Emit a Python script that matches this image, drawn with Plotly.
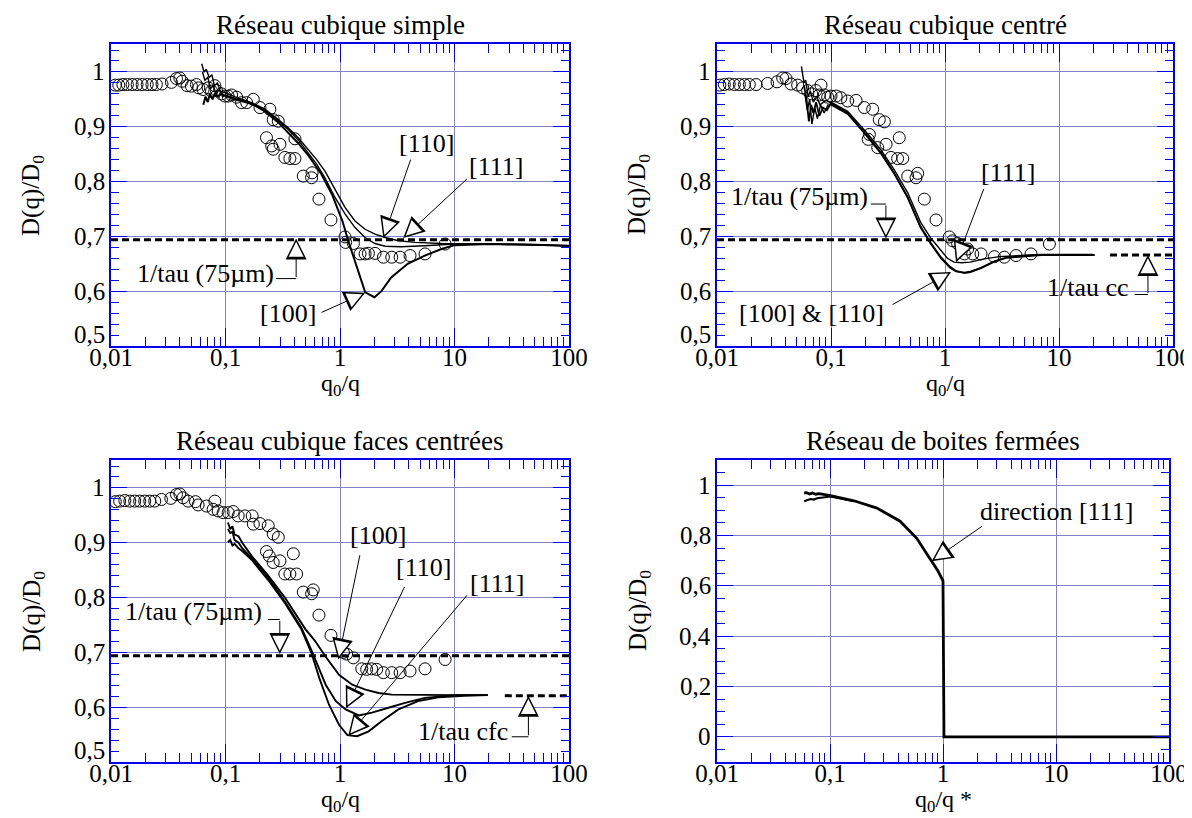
import math
import plotly.graph_objects as go

# ---------------- data ----------------
# Panel 1 : Réseau cubique simple
sc_exp_x = [0.0109,0.0117,0.0127,0.0139,0.0153,0.0169,0.0187,0.0207,0.0228,0.0249,0.0279,0.0337,0.0373,0.0399,0.0418,0.0462,0.0504,0.0558,0.0584,0.0638,0.0705,0.0755,0.0807,0.0834,0.0923,0.0987,0.1055,0.113,0.125,0.138,0.153,0.175,0.200,0.244,0.261,0.289,0.228,0.253,0.299,0.261,0.330,0.365,0.404,0.404,0.478,0.565,0.570,0.655,0.834,1.106,1.12,1.309,1.497,1.656,1.771,2.024,2.394,2.831,3.35,4.09,5.53,8.28]
sc_exp_y = [0.976,0.976,0.977,0.977,0.977,0.977,0.977,0.977,0.977,0.977,0.978,0.981,0.988,0.989,0.983,0.975,0.974,0.977,0.971,0.968,0.971,0.965,0.975,0.966,0.960,0.956,0.956,0.958,0.954,0.944,0.944,0.950,0.935,0.932,0.913,0.910,0.880,0.865,0.868,0.859,0.844,0.842,0.842,0.878,0.810,0.807,0.816,0.768,0.730,0.699,0.689,0.687,0.668,0.668,0.669,0.669,0.662,0.662,0.662,0.665,0.668,0.686]
sc_111_x = [0.062,0.065,0.068,0.072,0.076,0.08,0.085,0.09,0.1,0.12,0.169,0.221,0.289,0.353,0.432,0.528,0.625,0.739,0.904,1.106,1.352,1.656,2.02,2.48,3.24,4.53,7.74,15,30,60,100]
sc_111_y = [1.015,1.0,1.005,0.99,0.995,0.975,0.98,0.965,0.962,0.955,0.944,0.932,0.913,0.898,0.880,0.859,0.840,0.819,0.786,0.753,0.728,0.713,0.704,0.698,0.692,0.689,0.687,0.686,0.686,0.685,0.682]
sc_110_x = [0.063,0.066,0.07,0.074,0.078,0.083,0.088,0.095,0.1,0.12,0.169,0.221,0.289,0.353,0.432,0.528,0.625,0.739,0.904,1.106,1.352,1.656,2.02,2.48,3.4,5.5,10,20,40,100]
sc_110_y = [1.0,0.985,0.99,0.97,0.975,0.96,0.968,0.955,0.958,0.952,0.943,0.930,0.911,0.895,0.876,0.853,0.832,0.807,0.771,0.741,0.716,0.698,0.687,0.682,0.681,0.683,0.686,0.686,0.685,0.683]
sc_100_x = [0.064,0.067,0.07,0.073,0.077,0.081,0.086,0.092,0.1,0.12,0.169,0.221,0.289,0.353,0.432,0.528,0.69,0.85,1.05,1.18,1.4,1.66,2.0,2.3,2.8,3.9,5.5,7.7,10,20,40,100]
sc_100_y = [0.94,0.955,0.945,0.96,0.95,0.962,0.955,0.96,0.956,0.95,0.942,0.928,0.908,0.890,0.870,0.848,0.813,0.777,0.728,0.692,0.644,0.598,0.589,0.600,0.625,0.650,0.665,0.677,0.684,0.686,0.685,0.683]

# Panel 2 : Réseau cubique centré
cc_exp_x = [0.0106,0.0116,0.0128,0.0142,0.0157,0.0174,0.0192,0.0220,0.0278,0.0336,0.0377,0.0403,0.0446,0.0510,0.0564,0.0624,0.0677,0.0738,0.0817,0.0790,0.0874,0.0935,0.1,0.111,0.122,0.140,0.166,0.196,0.232,0.265,0.294,0.217,0.212,0.257,0.304,0.397,0.336,0.384,0.426,0.471,0.557,0.576,0.659,0.834,1.091,1.167,1.291,1.58,1.48,1.75,2.07,2.71,3.31,4.20,5.68,8.23]
cc_exp_y = [0.976,0.977,0.978,0.977,0.977,0.977,0.977,0.977,0.979,0.982,0.989,0.988,0.978,0.976,0.971,0.966,0.960,0.966,0.976,0.958,0.958,0.954,0.956,0.956,0.953,0.947,0.948,0.935,0.932,0.913,0.909,0.886,0.877,0.862,0.868,0.880,0.844,0.842,0.842,0.810,0.807,0.815,0.768,0.730,0.699,0.692,0.687,0.677,0.668,0.668,0.668,0.663,0.662,0.665,0.668,0.686]
cc_111_x = [0.055,0.058,0.06,0.063,0.066,0.07,0.075,0.08,0.09,0.1,0.14,0.196,0.274,0.36,0.47,0.61,0.75,0.92,1.05,1.2,1.4,1.67,2.2,3.0,4.6,7,10.4,20]
cc_111_y = [1.01,0.98,0.985,0.955,0.965,0.945,0.955,0.94,0.948,0.945,0.928,0.894,0.858,0.821,0.780,0.726,0.697,0.674,0.660,0.653,0.652,0.653,0.659,0.663,0.665,0.667,0.667,0.667]
cc_100_x = [0.058,0.061,0.064,0.067,0.07,0.074,0.079,0.085,0.092,0.1,0.14,0.196,0.274,0.36,0.47,0.61,0.75,0.92,1.1,1.25,1.48,1.67,2.07,2.71,3.5,5.0,7,10.4,20.5]
cc_100_y = [0.975,0.95,0.91,0.94,0.925,0.945,0.92,0.935,0.93,0.943,0.925,0.890,0.853,0.815,0.772,0.718,0.688,0.662,0.645,0.637,0.633,0.635,0.642,0.654,0.661,0.664,0.666,0.666,0.666]
cc_110_x = [0.059,0.062,0.065,0.068,0.072,0.076,0.081,0.087,0.094,0.1,0.14,0.196,0.274,0.36,0.47,0.61,0.75,0.92,1.1,1.25,1.48,1.67,2.07,2.71,3.5,5.0,7,10.4,20.5]
cc_110_y = [0.96,0.93,0.95,0.905,0.935,0.915,0.94,0.925,0.94,0.94,0.923,0.888,0.851,0.813,0.770,0.716,0.686,0.660,0.643,0.636,0.634,0.636,0.643,0.655,0.662,0.665,0.666,0.666,0.666]

# Panel 3 : Réseau cubique faces centrées
cfc_exp_x = [0.0109,0.0119,0.0132,0.0146,0.0161,0.0178,0.0197,0.0218,0.0241,0.0276,0.0333,0.0373,0.0399,0.0426,0.0471,0.0547,0.0577,0.0682,0.0807,0.078,0.0863,0.0954,0.1055,0.1167,0.129,0.1476,0.171,0.175,0.200,0.236,0.261,0.289,0.228,0.241,0.261,0.299,0.391,0.330,0.365,0.418,0.478,0.565,0.584,0.655,0.834,1.07,1.143,1.309,1.55,1.71,1.89,2.09,2.39,2.83,3.35,4.09,5.53,8.28]
cfc_exp_y = [0.975,0.976,0.977,0.976,0.976,0.976,0.976,0.976,0.976,0.979,0.981,0.988,0.989,0.982,0.976,0.975,0.969,0.967,0.976,0.961,0.958,0.955,0.955,0.957,0.949,0.949,0.949,0.934,0.935,0.931,0.916,0.910,0.884,0.876,0.864,0.867,0.880,0.843,0.843,0.843,0.810,0.807,0.814,0.768,0.731,0.700,0.697,0.690,0.670,0.669,0.670,0.669,0.663,0.663,0.663,0.666,0.670,0.687]
cfc_100_x = [0.105,0.11,0.115,0.12,0.13,0.14,0.169,0.236,0.33,0.4,0.5,0.6,0.75,0.98,1.28,1.67,2.17,2.83,5.2,10,19.5]
cfc_100_y = [0.937,0.925,0.93,0.915,0.912,0.9,0.876,0.84,0.8,0.772,0.742,0.722,0.692,0.659,0.641,0.632,0.626,0.623,0.622,0.622,0.622]
cfc_110_x = [0.105,0.11,0.115,0.12,0.13,0.14,0.169,0.236,0.33,0.46,0.565,0.616,0.75,0.92,1.12,1.46,1.90,2.65,3.7,5.5,10,19.5]
cfc_110_y = [0.925,0.918,0.92,0.905,0.9,0.89,0.872,0.836,0.793,0.745,0.703,0.684,0.641,0.611,0.596,0.585,0.590,0.599,0.608,0.617,0.622,0.622]
cfc_111_x = [0.105,0.11,0.115,0.12,0.13,0.14,0.169,0.236,0.33,0.46,0.565,0.66,0.80,0.98,1.16,1.41,1.78,2.32,3.24,4.8,7.2,12.2,19.5]
cfc_111_y = [0.901,0.905,0.895,0.898,0.89,0.885,0.869,0.832,0.79,0.742,0.698,0.653,0.605,0.568,0.549,0.547,0.556,0.575,0.596,0.611,0.618,0.621,0.622]

# Panel 4 : Réseau de boites fermées
box_a_x = [0.059,0.062,0.066,0.07,0.075,0.08,0.09,0.101,0.163,0.26,0.417,0.586,0.762,0.9,1.0,1.02,1.02,100]
box_a_y = [0.968,0.97,0.965,0.969,0.964,0.966,0.962,0.958,0.938,0.909,0.857,0.789,0.71,0.66,0.62,0.0,0.0,0.0]
box_b_x = [0.059,0.063,0.067,0.072,0.077,0.083,0.09,0.101,0.163]
box_b_y = [0.936,0.94,0.945,0.943,0.948,0.95,0.952,0.955,0.936]

# reference levels
tau75 = 0.694
tau_cc = 0.666
tau_cfc = 0.621
tau_cc_x = [28, 100]
tau_cfc_x = [27.5, 100]
full_x = [0.01, 100]

x_tickvals = [0.01, 0.1, 1, 10, 100]
x_ticktext = ["0,01", "0,1", "1", "10", "100"]
y_tickvals = [0.5, 0.6, 0.7, 0.8, 0.9, 1.0]
y_ticktext = ["0,5", "0,6", "0,7", "0,8", "0,9", "1"]
y4_tickvals = [0, 0.2, 0.4, 0.6, 0.8, 1.0]
y4_ticktext = ["0", "0,2", "0,4", "0,6", "0,8", "1"]

titles = ["Réseau cubique simple", "Réseau cubique centré",
          "Réseau cubique faces centrées", "Réseau de boites fermées"]

# ---------------- layout geometry ----------------
W, H = 1192, 818
FONT = "'Liberation Serif', Tinos, 'Times New Roman', Times, 'DejaVu Serif', serif"
BLUE = "#0000ee"
GRID = "#8282c8"
ANN = 26

P = {
    1: dict(xd=[103 / W, 561 / W], yd=[1 - 338 / H, 1 - 36 / H], yr=[0.5, 1.051]),
    2: dict(xd=[709 / W, 1165 / W], yd=[1 - 338 / H, 1 - 36 / H], yr=[0.5, 1.051]),
    3: dict(xd=[103 / W, 561 / W], yd=[1 - 754 / H, 1 - 452 / H], yr=[0.5, 1.051]),
    4: dict(xd=[709 / W, 1161 / W], yd=[1 - 754 / H, 1 - 452 / H], yr=[-0.1, 1.1]),
}

fig = go.Figure()


def ax_names(i):
    return ("x" if i == 1 else f"x{i}"), ("y" if i == 1 else f"y{i}")


def add_line(i, x, y, width=1.3, dash=None):
    xa, ya = ax_names(i)
    fig.add_trace(go.Scatter(x=x, y=y, mode="lines", xaxis=xa, yaxis=ya,
                             line=dict(color="black", width=width, dash=dash),
                             showlegend=False, hoverinfo="skip"))


def add_circles(i, x, y):
    xa, ya = ax_names(i)
    fig.add_trace(go.Scatter(x=x, y=y, mode="markers", xaxis=xa, yaxis=ya,
                             marker=dict(symbol="circle-open", size=12, color="black",
                                         line=dict(width=1, color="black")),
                             showlegend=False, hoverinfo="skip"))


def add_text(i, x, y, text, size=ANN):
    xa, ya = ax_names(i)
    fig.add_annotation(xref=xa, yref=ya, x=math.log10(x), y=y, text=text,
                       xanchor="center", yanchor="middle",
                       showarrow=False, font=dict(family=FONT, size=size, color="black"))


def add_arrow(i, head, tail):
    xa, ya = ax_names(i)
    p = P[i]
    decade = (p["xd"][1] - p["xd"][0]) * W / 4.0
    ppu = (p["yd"][1] - p["yd"][0]) * H / (p["yr"][1] - p["yr"][0])
    # outer (black) head + shaft
    fig.add_annotation(xref=xa, yref=ya, axref=xa, ayref=ya,
                       x=math.log10(head[0]), y=head[1],
                       ax=math.log10(tail[0]), ay=tail[1], text="",
                       showarrow=True, arrowhead=2, arrowsize=4.2, arrowwidth=1,
                       arrowcolor="black")
    # inner (white) head to make it look hollow
    dx = (math.log10(tail[0]) - math.log10(head[0])) * decade
    dy = -(tail[1] - head[1]) * ppu
    n = math.hypot(dx, dy)
    L = 19.0
    fig.add_annotation(xref=xa, yref=ya, x=math.log10(head[0]), y=head[1],
                       ax=dx / n * L, ay=dy / n * L, text="",
                       showarrow=True, arrowhead=2, arrowsize=3.0, arrowwidth=1,
                       arrowcolor="white", standoff=3.3)


# ---------------- traces ----------------
for i in (1, 2, 3):
    add_line(i, full_x, [tau75, tau75], width=3, dash="7px,4px")
add_line(2, tau_cc_x, [tau_cc, tau_cc], width=3, dash="7px,4px")
add_line(3, tau_cfc_x, [tau_cfc, tau_cfc], width=3, dash="7px,4px")

add_line(1, sc_111_x, sc_111_y, 1.4)
add_line(1, sc_110_x, sc_110_y, 1.4)
add_line(1, sc_100_x, sc_100_y, 2.0)
add_circles(1, sc_exp_x, sc_exp_y)

add_line(2, cc_111_x, cc_111_y, 1.4)
add_line(2, cc_110_x, cc_110_y, 1.4)
add_line(2, cc_100_x, cc_100_y, 1.8)
add_circles(2, cc_exp_x, cc_exp_y)

add_line(3, cfc_100_x, cfc_100_y, 1.9)
add_line(3, cfc_110_x, cfc_110_y, 1.9)
add_line(3, cfc_111_x, cfc_111_y, 1.9)
add_circles(3, cfc_exp_x, cfc_exp_y)

add_line(4, box_b_x, box_b_y, 2.2)
add_line(4, box_a_x, box_a_y, 2.8)

# connectors of the 1/tau labels
add_line(1, [0.277, 0.414], [0.623, 0.623], 1)
add_line(2, [0.224, 0.303], [0.759, 0.759], 1)
add_line(2, [46, 60.3], [0.594, 0.594], 1)
add_line(3, [0.236, 0.298], [0.760, 0.760], 1)
add_line(3, [31.6, 44.2], [0.546, 0.546], 1)

# ---------------- annotations ----------------
add_text(1, 5.66, 0.870, "[110]")
add_text(1, 23.2, 0.827, "[111]")
add_text(1, 0.0664, 0.633, "1/tau (75µm)")
add_text(1, 0.352, 0.560, "[100]")
add_arrow(1, (2.39, 0.697), (4.19, 0.843))
add_arrow(1, (3.57, 0.697), (13.2, 0.807))
add_arrow(1, (0.414, 0.696), (0.414, 0.623))
add_arrow(1, (1.66, 0.597), (0.67, 0.560))

add_text(2, 3.55, 0.816, "[111]")
add_text(2, 0.0527, 0.772, "1/tau (75µm)")
add_text(2, 0.0669, 0.559, "[100] &amp; [110]")
add_text(2, 17.9, 0.606, "1/tau cc")
add_arrow(2, (1.25, 0.653), (2.21, 0.789))
add_arrow(2, (0.303, 0.696), (0.303, 0.759))
add_arrow(2, (1.13, 0.635), (0.336, 0.574))
add_arrow(2, (60.3, 0.666), (60.3, 0.594))

add_text(3, 2.16, 0.913, "[100]")
add_text(3, 5.36, 0.855, "[110]")
add_text(3, 23.4, 0.825, "[111]")
add_text(3, 0.0521, 0.774, "1/tau (75µm)")
add_text(3, 11.9, 0.556, "1/tau cfc")
add_arrow(3, (0.966, 0.687), (1.50, 0.880))
add_arrow(3, (1.13, 0.598), (3.71, 0.822))
add_arrow(3, (1.18, 0.548), (13.2, 0.807))
add_arrow(3, (0.298, 0.697), (0.298, 0.760))
add_arrow(3, (44.2, 0.621), (44.2, 0.546))

add_text(4, 10, 0.897, "direction [111]")
add_arrow(4, (0.795, 0.698), (2.27, 0.84))

# titles, axis titles and y tick labels (paper x coordinates)
for i, t in zip((1, 2, 3, 4), titles):
    p = P[i]
    xa, ya = ax_names(i)
    cx = (p["xd"][0] + p["xd"][1]) / 2
    fig.add_annotation(xref="paper", yref="paper", x=cx, y=p["yd"][1] + 19 / H,
                       xanchor="center", yanchor="middle", text=t, showarrow=False,
                       font=dict(family=FONT, size=27, color="black"))
    xt = "q<sub>0</sub>/q *" if i == 4 else "q<sub>0</sub>/q"
    fig.add_annotation(xref="paper", yref="paper", x=cx, y=p["yd"][0] - 39 / H,
                       xanchor="center", yanchor="middle", text=xt, showarrow=False,
                       font=dict(family=FONT, size=24, color="black"))
    fig.add_annotation(xref="paper", yref="paper", x=p["xd"][0] - 78 / W,
                       y=(p["yd"][0] + p["yd"][1]) / 2, xanchor="center", yanchor="middle",
                       text="D(q)/D<sub>0</sub>", textangle=-90, showarrow=False,
                       font=dict(family=FONT, size=25, color="black"))
    vals, txts = (y4_tickvals, y4_ticktext) if i == 4 else (y_tickvals, y_ticktext)
    for v, s in zip(vals, txts):
        shift = 12 if v == p["yr"][0] else 0
        fig.add_annotation(xref="paper", yref=ya, x=p["xd"][0] - 4 / W, y=v,
                           xanchor="right", yanchor="middle", yshift=shift, text=s,
                           showarrow=False, font=dict(family=FONT, size=25, color="black"))

# ---------------- axes ----------------
layout = dict(width=W, height=H, margin=dict(l=0, r=0, t=0, b=0),
              plot_bgcolor="white", paper_bgcolor="white", showlegend=False,
              font=dict(family=FONT))
for i in (1, 2, 3, 4):
    p = P[i]
    xa, ya = ax_names(i)
    xk = "xaxis" if i == 1 else f"xaxis{i}"
    yk = "yaxis" if i == 1 else f"yaxis{i}"
    layout[xk] = dict(type="log", domain=p["xd"], anchor=ya, range=[-2, 2],
                      tickmode="array", tickvals=x_tickvals, ticktext=x_ticktext,
                      ticks="inside", ticklen=18, tickwidth=1.2, tickcolor=BLUE,
                      showline=True, linecolor=BLUE, linewidth=1.5, mirror="ticks",
                      showgrid=True, gridcolor=GRID, gridwidth=1, zeroline=False,
                      minor=dict(ticks="inside", ticklen=9, tickcolor=BLUE, tickwidth=1,
                                 dtick="D1", showgrid=False),
                      tickfont=dict(family=FONT, size=25, color="black"),
                      ticklabelstandoff=-12,
                      automargin=False, fixedrange=True)
    if i == 4:
        yt, mdt = y4_tickvals, 0.05
    else:
        yt, mdt = y_tickvals, 0.02
    layout[yk] = dict(domain=p["yd"], anchor=xa, range=p["yr"],
                      tickmode="array", tickvals=yt, showticklabels=False,
                      ticks="inside", ticklen=16, tickwidth=1.2, tickcolor=BLUE,
                      showline=True, linecolor=BLUE, linewidth=1.5, mirror="ticks",
                      showgrid=True, gridcolor=GRID, gridwidth=1, zeroline=False,
                      minor=dict(ticks="inside", ticklen=8, tickcolor=BLUE, tickwidth=1,
                                 tick0=0, dtick=mdt, showgrid=False),
                      automargin=False, fixedrange=True)

fig.update_layout(**layout)
fig.write_html("out.html")
